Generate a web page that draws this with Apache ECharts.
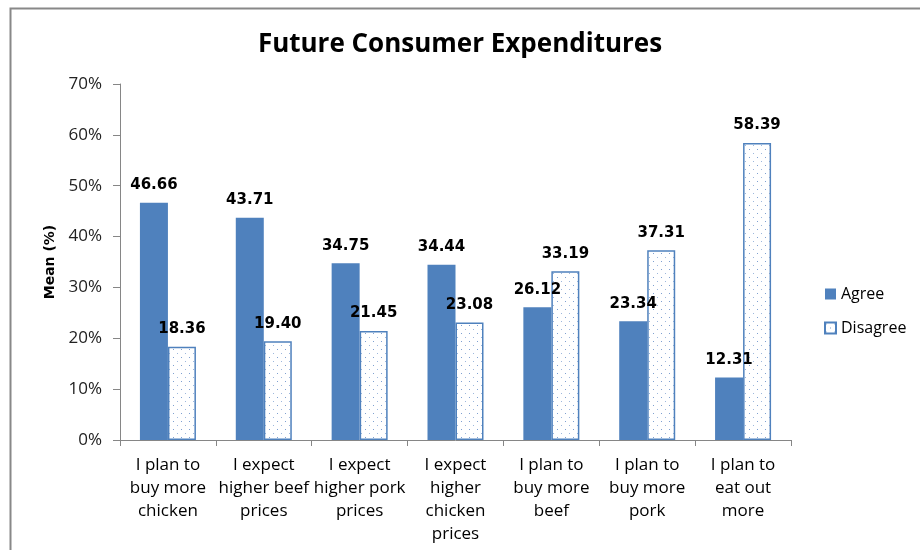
<!DOCTYPE html>
<html><head><meta charset="utf-8">
<script src="https://cdn.jsdelivr.net/npm/echarts@6/dist/echarts.min.js"></script>
<style>html,body{margin:0;padding:0;background:#fff}#c{width:920px;height:550px}</style>
</head><body><div id="c"></div>
<script>
const categories = [
  "I plan to\nbuy more\nchicken",
  "I expect\nhigher beef\nprices",
  "I expect\nhigher pork\nprices",
  "I expect\nhigher\nchicken\nprices",
  "I plan to\nbuy more\nbeef",
  "I plan to\nbuy more\npork",
  "I plan to\neat out\nmore"
];
const agree = [46.66, 43.71, 34.75, 34.44, 26.12, 23.34, 12.31];
const disagree = [18.36, 19.40, 21.45, 23.08, 33.19, 37.31, 58.39];
const yTicks = [0, 10, 20, 30, 40, 50, 60, 70];

const FONT = "'Open Sans', Lato, sans-serif";
const BOLDFONT = "'DejaVu Sans', sans-serif";
const BLUE = "#4F81BD";

// dotted pattern for "Disagree"
const pc = document.createElement('canvas');
pc.width = 8; pc.height = 8;
const px = pc.getContext('2d');
px.fillStyle = '#ffffff'; px.fillRect(0,0,8,8);
px.fillStyle = '#9db7dc'; px.fillRect(1,1,1,1);
px.fillStyle = '#7fa0d0'; px.fillRect(5,5,1,1);
const pattern = {image: pc, repeat: 'repeat'};

const chart = echarts.init(document.getElementById('c'));
const labelStyle = {show: true, position: 'top', distance: 10, fontFamily: BOLDFONT, fontWeight: 'bold', fontSize: 15, color: '#000',
  formatter: p => p.value.toFixed(2)};
chart.setOption({
  animation: false,
  textStyle: {fontFamily: FONT},
  title: {text: 'Future Consumer Expenditures', left: 'center', top: 27,
    textStyle: {fontFamily: FONT, fontWeight: 'bold', fontSize: 26, color: '#000'}},
  graphic: [{type: 'rect', shape: {x: 10.5, y: 8.5, width: 960, height: 600}, style: {fill: 'none', stroke: '#888', lineWidth: 2}, silent: true}],
  legend: {orient: 'vertical', left: 819, top: 281, itemGap: 18, itemWidth: 11, itemHeight: 11,
    textStyle: {fontFamily: FONT, fontSize: 16, color: '#000'},
    data: [{name: 'Agree', icon: 'rect'}, {name: 'Disagree', icon: 'rect'}]},
  grid: {left: 120, right: 129, top: 84, bottom: 110, containLabel: false},
  xAxis: {type: 'category', data: categories,
    axisLine: {lineStyle: {color: '#868686'}},
    axisTick: {show: true, length: 6, lineStyle: {color: '#868686'}},
    axisLabel: {interval: 0, fontFamily: FONT, fontSize: 17, color: '#000', lineHeight: 23, margin: 14}},
  yAxis: {type: 'value', min: yTicks[0], max: yTicks[yTicks.length-1], interval: 10,
    name: 'Mean (%)', nameLocation: 'middle', nameGap: 63, nameRotate: 90,
    nameTextStyle: {fontFamily: BOLDFONT, fontWeight: 'bold', fontSize: 14, color: '#000'},
    axisLine: {show: true, lineStyle: {color: '#868686'}},
    axisTick: {show: true, inside: false, length: 7, lineStyle: {color: '#868686'}},
    splitLine: {show: false},
    axisLabel: {formatter: '{value}%', fontFamily: FONT, fontSize: 17, color: '#222', margin: 18}},
  series: [
    {name: 'Agree', type: 'bar', data: agree, barWidth: 28, barGap: '0%',
      itemStyle: {color: BLUE}, label: labelStyle},
    {name: 'Disagree', type: 'bar', data: disagree, barWidth: 28,
      itemStyle: {color: pattern, borderColor: BLUE, borderWidth: 1.5}, label: labelStyle}
  ]
});
</script></body></html>
